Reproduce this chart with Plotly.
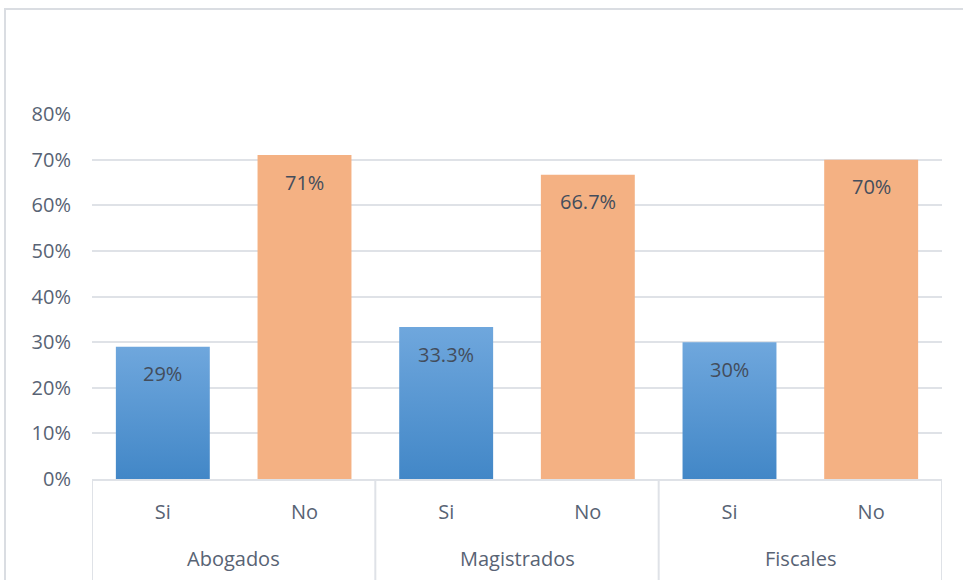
import plotly.graph_objects as go

# Survey answers grouped by respondent type
groups = ["Abogados", "Magistrados", "Fiscales"]
answers = ["Si", "No", "Si", "No", "Si", "No"]
shares = [0.29, 0.71, 0.333, 0.667, 0.30, 0.70]
labels = ["29%", "71%", "33.3%", "66.7%", "30%", "70%"]
y_ticks = [0, 0.1, 0.2, 0.3, 0.4, 0.5, 0.6, 0.7, 0.8]

BLUE = "#5696d4"
BLUE_TOP = "#6fa7dd"
BLUE_BOTTOM = "#4287c7"
ORANGE = "#f4b183"
TEXT = "#586374"
VALUE_TEXT = "#434d5c"
GRID = "#dfe2e7"
FONT = "Open Sans"

W, H = 963, 580
ML, MR, MT, MB = 92, 21, 114, 101
PW, PH = W - ML - MR, H - MT - MB

n_per_group = len(answers) // len(groups)
positions = list(range(len(answers)))
bar_colors = [BLUE if a == "Si" else ORANGE for a in answers]

fig = go.Figure(
    go.Bar(
        x=positions,
        y=shares,
        width=0.663,
        marker=dict(color=bar_colors, line=dict(width=0)),
        hoverinfo="skip",
    )
)

# value labels sit a little below each bar top
for x, v, t in zip(positions, shares, labels):
    fig.add_annotation(
        x=x, y=v, text=t, showarrow=False, yanchor="middle", yshift=-27,
        font=dict(family=FONT, size=20, color=VALUE_TEXT),
    )

# group names under the answer labels, with separators between groups
for g, name in enumerate(groups):
    first = g * n_per_group
    last = first + n_per_group - 1
    fig.add_annotation(
        x=(first + last) / 2, xref="x", y=-(558 - (H - MB)) / PH, yref="paper",
        text=name, showarrow=False, yanchor="middle",
        font=dict(family=FONT, size=20, color=TEXT),
    )
for b in range(len(groups) + 1):
    xb = b * n_per_group - 0.5
    fig.add_shape(
        type="line", xref="x", yref="paper",
        x0=xb, x1=xb, y0=0, y1=-(H + 10 - (H - MB)) / PH,
        line=dict(color=GRID, width=2),
    )

# outer chart frame
fig.add_shape(
    type="rect", xref="paper", yref="paper",
    x0=(5 - ML) / PW, x1=(975 - ML) / PW,
    y0=-(H + 20 - (H - MB)) / PH, y1=(H - MB - 9) / PH,
    line=dict(color="#dadde2", width=2), fillcolor="rgba(0,0,0,0)", layer="below",
)

fig.update_layout(
    width=W, height=H,
    margin=dict(l=ML, r=MR, t=MT, b=MB),
    paper_bgcolor="white", plot_bgcolor="white",
    showlegend=False,
    font=dict(family=FONT, size=20, color=TEXT),
)

fig.update_yaxes(
    range=[y_ticks[0], y_ticks[-1]], tickvals=y_ticks, tickformat=".0%",
    showgrid=True, gridcolor=GRID, gridwidth=2,
    zeroline=False, showline=False,
    ticklabelstandoff=20,
    tickfont=dict(family=FONT, size=20, color=TEXT),
)

fig.update_xaxes(
    range=[-0.5, len(answers) - 0.5],
    tickvals=positions, ticktext=answers,
    showgrid=False, zeroline=False,
    showline=True, linecolor=GRID, linewidth=2,
    ticks="", ticklabelstandoff=14,
    tickfont=dict(family=FONT, size=20, color=TEXT),
)

# vertical light-to-dark gradient on the "Si" bars
r, g_, b_ = (int(BLUE[i:i + 2], 16) for i in (1, 3, 5))
gradient_js = """
var gd = document.getElementById('{plot_id}');
function paintSi() {
  var svg = gd.querySelector('.main-svg');
  if (!svg) return;
  var ns = 'http://www.w3.org/2000/svg';
  var defs = svg.querySelector('defs');
  if (!defs) { defs = document.createElementNS(ns, 'defs'); svg.insertBefore(defs, svg.firstChild); }
  if (!svg.querySelector('#siGrad')) {
    var lg = document.createElementNS(ns, 'linearGradient');
    lg.setAttribute('id', 'siGrad');
    lg.setAttribute('x1', '0'); lg.setAttribute('y1', '0');
    lg.setAttribute('x2', '0'); lg.setAttribute('y2', '1');
    [['0', 'TOP'], ['1', 'BOTTOM']].forEach(function (s) {
      var st = document.createElementNS(ns, 'stop');
      st.setAttribute('offset', s[0]);
      st.setAttribute('stop-color', s[1]);
      lg.appendChild(st);
    });
    defs.appendChild(lg);
  }
  gd.querySelectorAll('.bars .point path').forEach(function (p) {
    var f = p.style.fill || '';
    if (f.replace(/\\s/g, '') === 'rgb(RGB)') { p.style.fill = 'url(#siGrad)'; }
  });
}
paintSi();
gd.on('plotly_afterplot', paintSi);
""".replace("TOP", BLUE_TOP).replace("BOTTOM", BLUE_BOTTOM).replace(
    "RGB", f"{r},{g_},{b_}"
)

fig.write_html("out.html", post_script=gradient_js)
